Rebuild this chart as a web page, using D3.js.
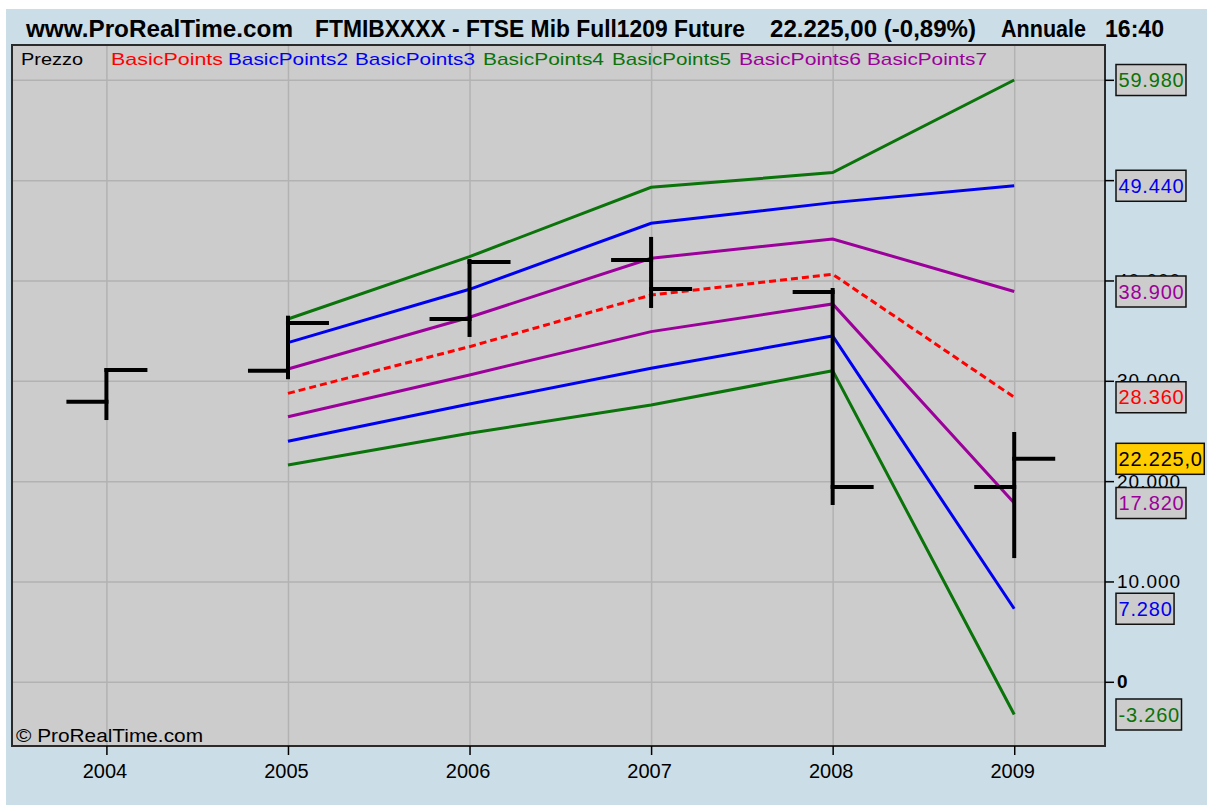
<!DOCTYPE html>
<html>
<head>
<meta charset="utf-8">
<script src="https://cdn.jsdelivr.net/npm/d3@7/dist/d3.min.js"></script>
<style>
  body { margin: 0; background: #fff; }
  svg { display: block; }
  text { font-family: "Liberation Sans", Arial, sans-serif; }
</style>
</head>
<body>
<svg id="chart" width="1207" height="805"></svg>
<script>
//Price bars, one per year (open / high / low / close)
var years = [2004, 2005, 2006, 2007, 2008, 2009];
var priceOpen = [27900, 31010, 36150, 42040, 38850, 19410];
var priceHigh = [31250, 36490, 42140, 44340, 39250, 24900];
var priceLow = [26090, 30160, 34370, 37260, 17620, 12330];
var priceClose = [31080, 35750, 41840, 39150, 19410, 22225];

//Pivot levels (BasicPoints indicator), from 2005 on
var pivotYears = [2005, 2006, 2007, 2008, 2009];
var basicPoints = [28750, 33400, 38550, 40620, 28360];
var basicPoints2 = [33800, 39120, 45700, 47760, 49440];
var basicPoints3 = [23970, 27690, 31250, 34470, 7280];
var basicPoints4 = [36160, 42370, 49290, 50750, 59980];
var basicPoints5 = [21600, 24770, 27590, 31010, -3260];
var basicPoints6 = [31180, 36330, 42210, 44140, 38900];
var basicPoints7 = [26420, 30580, 34900, 37660, 17820];

var legendNames = ["Prezzo", "BasicPoints", "BasicPoints2", "BasicPoints3",
  "BasicPoints4", "BasicPoints5", "BasicPoints6", "BasicPoints7"];
var yTicks = [0, 10000, 20000, 30000, 40000, 50000, 60000];
var titleParts = ["www.ProRealTime.com", "FTMIBXXXX - FTSE Mib Full1209 Future",
  "22.225,00 (-0,89%)", "Annuale", "16:40"];

var RED = "#ff0000", BLUE = "#0000f0", GREEN = "#0a730a", PURPLE = "#9b009b";

var svg = d3.select("#chart");
var W = 1207, H = 805;
var plot = {left: 12, top: 45, right: 1105, bottom: 746};

//Italian number format: 59.980 / 22.225,0
var it = d3.formatLocale({decimal: ",", thousands: ".", grouping: [3], currency: ["", ""], minus: "-"});
var fmtInt = it.format(",d");
var fmtPrice = it.format(",.1f");

var x = d3.scaleLinear().domain([2003.48, 2009.5]).range([plot.left, plot.right]);
var y = d3.scaleLinear().domain([-6300, 63470]).range([745, 45]);

//Backgrounds
svg.append("rect").attr("x", 6).attr("y", 9).attr("width", W - 6).attr("height", H - 9)
  .attr("fill", "#cbdde6");
svg.append("rect")
  .attr("x", plot.left).attr("y", plot.top)
  .attr("width", plot.right - plot.left).attr("height", plot.bottom - plot.top)
  .attr("fill", "#cccccc");

//Grid lines
var gridY = svg.append("g").attr("transform", "translate(" + plot.right + ",0)")
  .call(d3.axisRight(y).tickValues(yTicks).tickSize(-(plot.right - plot.left)).tickFormat(""));
var gridX = svg.append("g").attr("transform", "translate(0," + plot.bottom + ")")
  .call(d3.axisBottom(x).tickValues(years).tickSize(-(plot.bottom - plot.top)).tickFormat(""));
[gridX, gridY].forEach(function(g) {
  g.select(".domain").remove();
  g.selectAll("line").attr("stroke", "#b2b2b2").attr("stroke-width", 1.5);
});

//Title
var titleX = [26, 315, 770, 1001, 1105];
var titleW = [267, 430, 206, 85, 59];
titleParts.forEach(function(t, i) {
  svg.append("text").attr("x", titleX[i]).attr("y", 37)
    .attr("font-size", 23).attr("font-weight", "bold").attr("fill", "#000")
    .attr("textLength", titleW[i]).attr("lengthAdjust", "spacingAndGlyphs")
    .text(t);
});

//Legend
var legendColors = ["#000", RED, BLUE, BLUE, GREEN, GREEN, PURPLE, PURPLE];
var legendX = [21, 111, 228, 355, 483, 612, 739, 867];
var legendW = [62, 112, 120, 120, 121, 119, 122, 120];
legendNames.forEach(function(n, i) {
  svg.append("text").attr("x", legendX[i]).attr("y", 65)
    .attr("font-size", 17).attr("fill", legendColors[i])
    .attr("textLength", legendW[i]).attr("lengthAdjust", "spacingAndGlyphs")
    .text(n);
});

//Pivot lines
var series = [
  {v: basicPoints7, c: PURPLE}, {v: basicPoints6, c: PURPLE},
  {v: basicPoints5, c: GREEN}, {v: basicPoints4, c: GREEN},
  {v: basicPoints3, c: BLUE}, {v: basicPoints2, c: BLUE},
  {v: basicPoints, c: RED, dash: "7,4"}
];
var line = d3.line()
  .x(function(d, i) { return x(pivotYears[i]); })
  .y(function(d) { return y(d); });
series.forEach(function(s) {
  svg.append("path").attr("d", line(s.v))
    .attr("fill", "none").attr("stroke", s.c).attr("stroke-width", 3)
    .attr("stroke-dasharray", s.dash || null);
});

//Price bars
var bars = svg.append("g").attr("stroke", "#000").attr("stroke-width", 4);
years.forEach(function(yr, i) {
  var cx = x(yr);
  bars.append("line").attr("x1", cx).attr("x2", cx)
    .attr("y1", y(priceHigh[i])).attr("y2", y(priceLow[i]));
  bars.append("line").attr("x1", cx - 40).attr("x2", cx + 2)
    .attr("y1", y(priceOpen[i])).attr("y2", y(priceOpen[i]));
  bars.append("line").attr("x1", cx - 2).attr("x2", cx + 41)
    .attr("y1", y(priceClose[i])).attr("y2", y(priceClose[i]));
});

//Copyright
svg.append("text").attr("x", 16).attr("y", 742).attr("font-size", 18)
  .attr("textLength", 187).attr("lengthAdjust", "spacingAndGlyphs")
  .text("\u00a9 ProRealTime.com");

//Plot frame
svg.append("rect")
  .attr("x", plot.left).attr("y", plot.top)
  .attr("width", plot.right - plot.left).attr("height", plot.bottom - plot.top)
  .attr("fill", "none").attr("stroke", "#2a2a2a").attr("stroke-width", 2);

//Bottom axis (years)
var xAxis = svg.append("g").attr("transform", "translate(0," + plot.bottom + ")")
  .call(d3.axisBottom(x).tickValues(years).tickSize(9).tickPadding(9).tickFormat(d3.format("d")));
xAxis.select(".domain").remove();
xAxis.selectAll("line").attr("stroke", "#000").attr("stroke-width", 1.5);
xAxis.selectAll("text").attr("font-size", 20).attr("fill", "#000")
  .attr("font-family", "Liberation Sans, Arial, sans-serif").attr("dx", -2);

//Right axis (price)
var yAxis = svg.append("g").attr("transform", "translate(" + plot.right + ",0)")
  .call(d3.axisRight(y).tickValues(yTicks).tickSize(9).tickPadding(3).tickFormat(fmtInt));
yAxis.select(".domain").remove();
yAxis.selectAll("line").attr("stroke", "#000").attr("stroke-width", 1.5);
yAxis.selectAll("text").attr("font-size", 19).attr("fill", "#000")
  .attr("font-family", "Liberation Sans, Arial, sans-serif")
  .style("letter-spacing", "1px")
  .attr("font-weight", function(d) { return d === 0 ? "bold" : null; });

//Last-value boxes on the right axis
var boxes = [
  {v: basicPoints4[4], c: GREEN}, {v: basicPoints2[4], c: BLUE},
  {v: basicPoints6[4], c: PURPLE}, {v: basicPoints[4], c: RED},
  {v: priceClose[5], c: "#000", bg: "#ffcc00", price: true},
  {v: basicPoints7[4], c: PURPLE}, {v: basicPoints3[4], c: BLUE},
  {v: basicPoints5[4], c: GREEN}
];
boxes.forEach(function(b) {
  var g = svg.append("g").attr("transform", "translate(1116," + y(b.v) + ")");
  var r = g.append("rect").attr("y", -15.5).attr("height", 31)
    .attr("fill", b.bg || "#cccccc").attr("stroke", "#111").attr("stroke-width", 1.5);
  var t = g.append("text").attr("x", 2.5).attr("dy", "0.36em")
    .attr("font-size", 20).attr("fill", b.c).style("letter-spacing", "0.8px")
    .text(b.price ? fmtPrice(b.v) : fmtInt(b.v));
  r.attr("width", t.node().getComputedTextLength() + 4);
});
</script>
</body>
</html>
